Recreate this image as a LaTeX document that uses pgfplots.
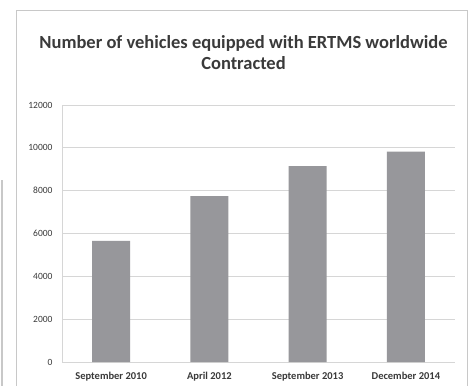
\documentclass[border=0pt]{standalone}
\usepackage{pgfplots}
\pgfplotsset{compat=1.18}
\usepackage{fontspec}
\setmainfont{Carlito}
\definecolor{bargray}{HTML}{97979B}
\definecolor{gridgray}{HTML}{D6D6D6}
\definecolor{txt}{HTML}{3A3A3A}
\definecolor{frame}{HTML}{C8C8C8}
\begin{document}
\begin{tikzpicture}
\useasboundingbox (0pt,0pt) rectangle (473pt,-385pt);
\fill[white] (0pt,0pt) rectangle (473pt,-385pt);
\draw[frame,line width=1pt] (16pt,-390pt) -- (16pt,-11pt) -- (467pt,-11pt) -- (467pt,-390pt);
\draw[frame,line width=1.2pt] (2pt,-180pt) -- (2pt,-390pt);
\node[txt,font=\fontsize{18.5}{21}\selectfont\bfseries,align=center] at (243.5pt,-53pt) {Number of vehicles equipped with ERTMS worldwide\\Contracted};
\begin{axis}[
  at={(62pt,-362pt)}, anchor=south west,
  scale only axis, width=393pt, height=257pt,
  xmin=-0.5, xmax=3.5, ymin=0, ymax=12000,
  ytick={0,2000,4000,6000,8000,10000,12000},
  xtick={0,1,2,3},
  xticklabels={September 2010,April 2012,September 2013,December 2014},
  axis x line*=bottom, axis y line*=left,
  axis line style={gridgray,line width=0.8pt},
  ymajorgrids, grid style={gridgray,line width=0.8pt},
  major tick length=0pt,
  scaled y ticks=false,
  /pgf/number format/assume math mode=true,
  /pgf/number format/1000 sep={},
  yticklabel style={font=\fontsize{9.5}{10}\selectfont, text=txt, anchor=east, xshift=-6pt},
  xticklabel style={font=\fontsize{10.5}{11}\selectfont\bfseries, text=txt, anchor=base, yshift=-17pt},
  clip=false,
]
\addplot[ybar, bar width=38pt, fill=bargray, draw=none] coordinates {(0,5650) (1,7740) (2,9150) (3,9820)};
\end{axis}
\end{tikzpicture}
\end{document}
